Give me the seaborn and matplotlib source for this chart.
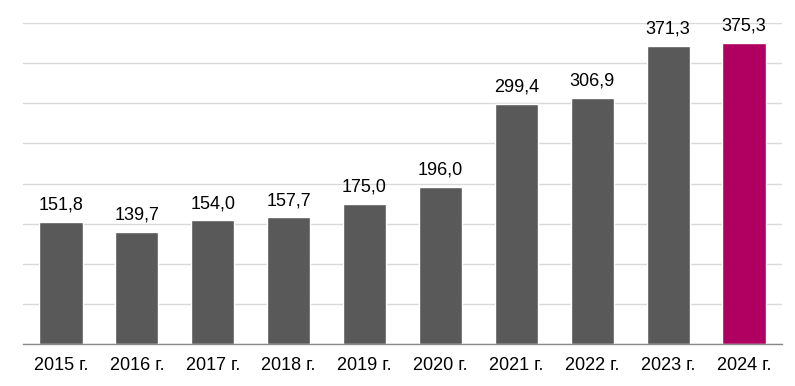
import matplotlib
matplotlib.use("Agg")
import matplotlib.pyplot as plt
import seaborn as sns
import pandas as pd

years = ["2015 г.", "2016 г.", "2017 г.", "2018 г.", "2019 г.", "2020 г.", "2021 г.", "2022 г.", "2023 г.", "2024 г."]
values = [151.8, 139.7, 154.0, 157.7, 175.0, 196.0, 299.4, 306.9, 371.3, 375.3]
labels = ["151,8", "139,7", "154,0", "157,7", "175,0", "196,0", "299,4", "306,9", "371,3", "375,3"]

sns.set_theme(style="white")
plt.rcParams['font.family'] = ['Liberation Sans', 'DejaVu Sans']

df = pd.DataFrame({"year": years, "value": values})
colors = ["#595959"] * 9 + ["#AF0061"]

fig = plt.figure(figsize=(7.95, 3.86), dpi=100)
ax = fig.add_axes([23/795, 42/386, (782-23)/795, (344-23)/386])
sns.barplot(data=df, x="year", y="value", hue="year", palette=colors, legend=False,
            width=0.57, saturation=1, ax=ax)

ax.set_ylim(0, 400)
ax.set_xlim(-0.5, 9.5)
ax.set_yticks(range(0, 401, 50))
ax.set_yticklabels([])
ax.tick_params(axis='y', length=0)
ax.yaxis.grid(True, color="#d9d9d9", linewidth=1)
ax.set_axisbelow(True)
for s in ["left", "right", "top"]:
    ax.spines[s].set_visible(False)
ax.spines["bottom"].set_color("#898989")
ax.spines["bottom"].set_linewidth(1)
ax.set_xlabel("")
ax.set_ylabel("")
ax.tick_params(axis='x', which='major', length=0, labelsize=13, colors="black", pad=9)
ax.set_xticks([i - 0.5 for i in range(11)], minor=True)
ax.tick_params(axis='x', which='minor', length=5, color="#898989", width=1)

for i, (v, t) in enumerate(zip(values, labels)):
    ax.annotate(t, (i, v), xytext=(0, 6), textcoords="offset points",
                ha="center", va="bottom", fontsize=13, color="black")

fig.savefig("out.png", dpi=100)
